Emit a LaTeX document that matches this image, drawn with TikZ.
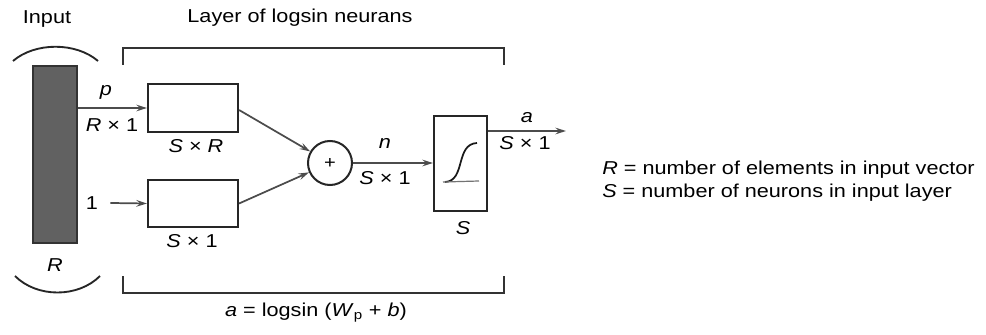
\documentclass[tikz,border=0pt]{standalone}
\usepackage{fontspec}
\setmainfont{Liberation Sans}[FakeStretch=1.16]
\usetikzlibrary{arrows.meta,calc}
\begin{document}
\begin{tikzpicture}[x=0.75pt,y=-0.75pt,
  font=\fontsize{14}{17}\selectfont,
  lbl/.style={inner sep=0pt},
  boxn/.style={draw=black!85, line width=1.6pt, fill=white, inner sep=0pt},
  arr/.style={draw=black!70, line width=1.3pt, -{Stealth[length=8pt,width=5pt,inset=3pt]}},
  brk/.style={draw=black!80, line width=1.7pt},
  arc/.style={draw=black!85, line width=1.4pt}]
\useasboundingbox (0,0) rectangle (986,335);
% input
\node[lbl] (inp) at (47,19) {Input};
\node[boxn, fill=black!62, draw=black!80, minimum width=33pt, minimum height=132.75pt] (bar) at (55,154.5) {};
\node[lbl] (rlab) at (55,265) {\textit{R}};
\draw[arc] (13,61) .. controls (35,42) and (76,42) .. (98,61);
\draw[arc] (15,276) .. controls (37,298) and (78,298) .. (100,276);
% brackets
\node[lbl] (layer) at (300,18) {Layer of logsin neurans};
\draw[brk] (123,65) -- (123,48) -- (504,48) -- (504,65);
\draw[brk] (123,276) -- (123,293) -- (504,293) -- (504,276);
\node[lbl] (form) at (316,313) {\textit{a} = logsin (\textit{W}\textsubscript{p} + \textit{b})};
% weight boxes
\node[boxn, minimum width=67.5pt, minimum height=36pt] (box1) at (193,108) {};
\node[boxn, minimum width=67.5pt, minimum height=35.25pt] (box2) at (193,203.5) {};
\node[lbl] (sr) at (196,146) {\textit{S} × \textit{R}};
\node[lbl] (s1a) at (192,241) {\textit{S} × 1};
% input arrows
\draw[arr] (bar.east |- box1.west) -- (box1.west);
\node[lbl] (p) at (106,92) {\textit{p}};
\node[lbl] (r1) at (112,125) {\textit{R} × 1};
\node[lbl, inner xsep=9pt] (one) at (92,203) {1};
\draw[arr] (one.east) -- (box2.west);
% sum
\node[draw=black!85, line width=1.5pt, circle, minimum size=33pt, inner sep=0pt, fill=white] (plus) at (330,163) {\fontsize{13}{14}\selectfont +};
\draw[arr] ([yshift=-1.5pt]box1.east) -- (plus);
\draw[arr] (box2.east) -- (plus);
% transfer
\node[boxn, minimum width=39.75pt, minimum height=71.25pt] (box3) at (460.5,163.5) {};
\draw[arr] (plus.east) -- (box3.west |- plus.east);
\node[lbl] (n) at (385,143) {\textit{n}};
\node[lbl] (s1b) at (385,178) {\textit{S} × 1};
\draw[black!90, line width=1.3pt] (445,182) .. controls (466,181) and (455,144) .. (477,143);
\draw[black!55, line width=0.9pt] (443,182) -- (479,181);
\node[lbl] (slab) at (463,228) {\textit{S}};
% output
\coordinate (out) at (566,131);
\draw[arr] (box3.east |- out) -- (out);
\node[lbl] (a) at (527,118) {\textit{a}};
\node[lbl] (s1c) at (525,143) {\textit{S} × 1};
% legend
\node[lbl, anchor=west, align=left] (leg) at (602,181) {\textit{R} = number of elements in input vector\\\textit{S} = number of neurons in input layer};
\end{tikzpicture}
\end{document}
